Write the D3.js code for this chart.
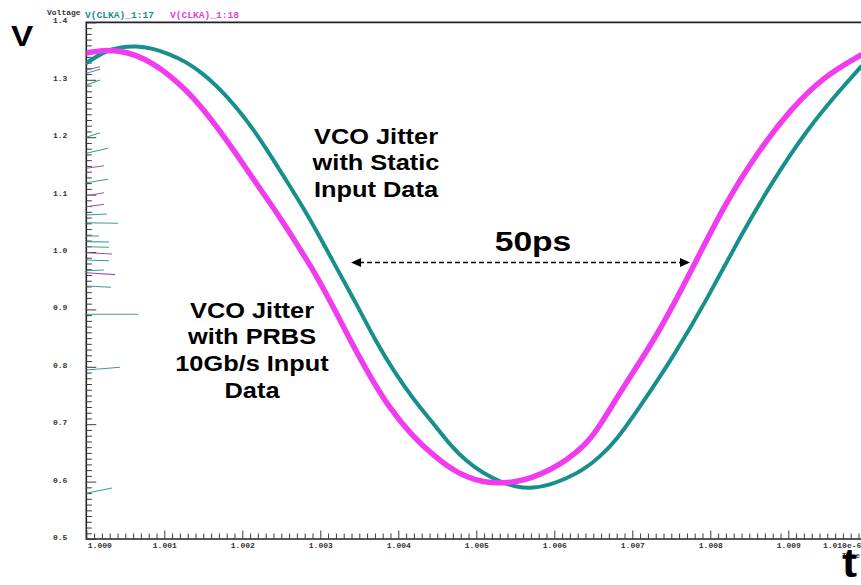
<!DOCTYPE html>
<html><head><meta charset="utf-8">
<script src="https://cdn.jsdelivr.net/npm/d3@7"></script>
<style>
html,body{margin:0;padding:0;background:#fff;overflow:hidden;}
svg{display:block;}
</style></head>
<body><svg id="chart" width="861" height="585"></svg>
<script>
// ---- data ----
const seriesNames = ["V(CLKA)_1:17", "V(CLKA)_1:18"];
const time17 = [1.000000,1.000253,1.000423,1.000637,1.000851,1.001064,1.001278,1.001492,1.001705,1.001919,1.002133,1.002346,1.002560,1.002774,1.002996,1.003201,1.003483,1.003701,1.003958,1.004201,1.004449,1.004663,1.004877,1.005090,1.005304,1.005518,1.005731,1.005945,1.006159,1.006372,1.006586,1.006800,1.007099,1.007526,1.007954,1.008381,1.008808,1.009236,1.009663,1.009932];
const volt17 = [1.3293,1.3507,1.3566,1.3589,1.3549,1.3449,1.3315,1.3113,1.2852,1.2531,1.2155,1.1720,1.1254,1.0789,1.0261,0.9739,0.9047,0.8467,0.7887,0.7422,0.7016,0.6638,0.6347,0.6145,0.5998,0.5901,0.5883,0.5941,0.6057,0.6202,0.6434,0.6725,0.7305,0.8176,0.9164,1.0267,1.1254,1.2125,1.2822,1.3228];
const time18 = [1.000000,1.000210,1.000423,1.000637,1.000851,1.001064,1.001278,1.001492,1.001705,1.001919,1.002133,1.002346,1.002560,1.002826,1.002932,1.003167,1.003381,1.003615,1.003872,1.004201,1.004449,1.004663,1.004877,1.005090,1.005304,1.005518,1.005731,1.005945,1.006159,1.006372,1.006547,1.006885,1.007313,1.007740,1.008167,1.008595,1.009022,1.009449,1.009932];
const volt18 = [1.3467,1.3519,1.3507,1.3432,1.3287,1.3084,1.2822,1.2503,1.2125,1.1720,1.1284,1.0876,1.0441,0.9861,0.9629,0.9047,0.8467,0.7887,0.7305,0.6760,0.6463,0.6232,0.6075,0.5993,0.5970,0.5998,0.6075,0.6202,0.6376,0.6608,0.6882,0.7653,0.8524,0.9629,1.0789,1.1720,1.2474,1.3054,1.3432];
// start-up transient stubs at t = 1.000 (start V, end V, duration, series index; 2 = bluish)
const stubV0 = [1.1998,1.1719,1.1458,1.1207,1.0981,1.0789,1.0645,1.0510,1.0279,1.0180,1.0092,0.9988,0.9861,0.9674,0.9639,0.9408,0.8915,0.7944,0.5796,1.3287,1.3171,1.3113,1.2909];
const stubV1 = [1.2078,1.1807,1.1503,1.1267,1.1033,1.0831,1.0662,1.0500,1.0279,1.0174,1.0082,0.9965,0.9848,0.9686,0.9605,0.9385,0.8915,0.7991,0.5889,1.3432,1.3228,1.3183,1.2997];
const stubDt = [0.000176,0.000278,0.000227,0.000278,0.000227,0.000227,0.000265,0.000406,0.000163,0.000291,0.000291,0.000329,0.000291,0.000227,0.000368,0.000317,0.000663,0.000432,0.000329,0.000176,0.000176,0.000176,0.000176];
const stubSeries = [0,0,1,0,1,1,0,0,0,0,0,1,0,0,1,0,0,0,0,2,1,0,0];
const xMajorTicks = [1.000,1.001,1.002,1.003,1.004,1.005,1.006,1.007,1.008,1.009,1.010];
const xTickLabels = ["1.000","1.001","1.002","1.003","1.004","1.005","1.006","1.007","1.008","1.009","1.010e-6"];
const yMajorTicks = [0.5,0.6,0.7,0.8,0.9,1.0,1.1,1.2,1.3,1.4];
const yTickLabels = ["0.5","0.6","0.7","0.8","0.9","1.0","1.1","1.2","1.3","1.4"];
const arrowT = [1.003394, 1.007740];
const arrowV = 0.9817;
const noteStatic = ["VCO Jitter","with Static","Input Data"];
const notePrbs = ["VCO Jitter","with PRBS","10Gb/s Input","Data"];
const noteSpan = "50ps";

// ---- styles ----
const colTeal = "#178f8c", colMag = "#f03cee", colBlue = "#4a78b4";
const stubCols = ["#3c9c98", "#a050b8", colBlue];
const axisCol = "#222", tickCol = "#3a3a3a";

const svg = d3.select("#chart");
const W = 861, H = 585;
const x = d3.scaleLinear().domain([1.000, 1.010]).range([86.3, 866.3]);
const y = d3.scaleLinear().domain([0.5, 1.4]).range([539, 22.4]);

svg.append("rect").attr("width", W).attr("height", H).attr("fill", "#fff");

svg.append("defs").append("clipPath").attr("id","plotclip")
  .append("rect").attr("x", x(1.0)).attr("y", y(1.4)).attr("width", W - x(1.0)).attr("height", y(0.5) - y(1.4));

// frame lines (top, left, bottom)
svg.append("path")
  .attr("d", `M${W},${y(1.4)}H${x(1.0)}V${y(0.5)}H${W}`)
  .attr("fill", "none").attr("stroke", axisCol).attr("stroke-width", 1.6);

// minor ticks
const xMinor = d3.range(0, 101).map(i => 1.0 + i * 0.0001).filter((d, i) => i % 10 !== 0);
const yMinor = d3.range(0, 91).map(i => 0.5 + i * 0.01).filter((d, i) => i % 10 !== 0);

const gxMinor = svg.append("g").attr("transform", `translate(0,${y(0.5)})`)
  .call(d3.axisBottom(x).tickValues(xMinor).tickSizeInner(-5.5).tickSizeOuter(0).tickFormat(""));
gxMinor.select(".domain").remove();
gxMinor.selectAll(".tick line").attr("stroke", tickCol).attr("stroke-width", 1);

const gyMinor = svg.append("g").attr("transform", `translate(${x(1.0)},0)`)
  .call(d3.axisLeft(y).tickValues(yMinor).tickSizeInner(-5.5).tickSizeOuter(0).tickFormat(""));
gyMinor.select(".domain").remove();
gyMinor.selectAll(".tick line").attr("stroke", tickCol).attr("stroke-width", 1);

// major axes
const gx = svg.append("g").attr("transform", `translate(0,${y(0.5)})`)
  .call(d3.axisBottom(x).tickValues(xMajorTicks).tickSizeInner(-8.5).tickSizeOuter(0).tickPadding(3)
    .tickFormat((d, i) => xTickLabels[i]));
gx.select(".domain").remove();
gx.selectAll(".tick line").attr("stroke", tickCol).attr("stroke-width", 1);
gx.selectAll("text").attr("font-family", "'Liberation Mono', 'DejaVu Sans Mono', monospace")
  .attr("font-weight", "bold").attr("font-size", 8).attr("fill", "#333");
gx.selectAll(".tick").filter(d => d === 1.000).select("text").attr("text-anchor", "start").attr("dx", 1);
gx.selectAll(".tick").filter(d => d === 1.010).select("text").attr("text-anchor", "end").attr("dx", -5.5);

const gy = svg.append("g").attr("transform", `translate(${x(1.0)},0)`)
  .call(d3.axisLeft(y).tickValues(yMajorTicks).tickSizeInner(-10).tickSizeOuter(0).tickPadding(19)
    .tickFormat((d, i) => yTickLabels[i]));
gy.select(".domain").remove();
gy.selectAll(".tick line").attr("stroke", tickCol).attr("stroke-width", 1);
gy.selectAll("text").attr("font-family", "'Liberation Mono', 'DejaVu Sans Mono', monospace")
  .attr("font-weight", "bold").attr("font-size", 8).attr("fill", "#333").attr("dy", "0.05em");

// axis titles
svg.append("text").attr("x", 47).attr("y", 15).text("Voltage")
  .attr("font-family", "'Liberation Mono', monospace").attr("font-weight", "bold").attr("font-size", 8).attr("fill", "#333");
svg.append("text").attr("x", 842).attr("y", 558).text("Time")
  .attr("font-family", "'Liberation Mono', monospace").attr("font-weight", "bold").attr("font-size", 7.5).attr("fill", "#333");

// legend
svg.append("text").attr("x", 85).attr("y", 17.5).text(seriesNames[0])
  .attr("font-family", "'Liberation Mono', monospace").attr("font-weight", "bold").attr("font-size", 9.6).attr("fill", colTeal);
svg.append("text").attr("x", 170).attr("y", 17.5).text(seriesNames[1])
  .attr("font-family", "'Liberation Mono', monospace").attr("font-weight", "bold").attr("font-size", 9.6).attr("fill", "#e040e0");

// plot content
const plot = svg.append("g").attr("clip-path", "url(#plotclip)");

const stubs = stubV0.map((v0, i) => ({v0, v1: stubV1[i], dt: stubDt[i], s: stubSeries[i]}));
plot.selectAll("line.stub").data(stubs).join("line").attr("class", "stub")
  .attr("x1", x(1.0)).attr("y1", d => y(d.v0))
  .attr("x2", d => x(1.0 + d.dt)).attr("y2", d => y(d.v1))
  .attr("stroke", d => stubCols[d.s]).attr("stroke-width", 1.1);

const line = d3.line().x(d => x(d[0])).y(d => y(d[1])).curve(d3.curveBasis);
const d17 = time17.map((t, i) => [t, volt17[i]]);
const d18 = time18.map((t, i) => [t, volt18[i]]);

plot.append("path").datum(d17).attr("d", line).attr("fill", "none")
  .attr("stroke", colTeal).attr("stroke-width", 4).attr("stroke-linecap", "round");
plot.append("path").datum(d18).attr("d", line).attr("fill", "none")
  .attr("stroke", colMag).attr("stroke-width", 5.5).attr("stroke-linecap", "round");

// annotations
const bold = "'Liberation Sans', Arial, sans-serif";
function block(lines, cx, y0, size, lh) {
  lines.forEach((s, i) => {
    svg.append("text").attr("transform", `translate(${cx},${y0 + i * lh}) scale(1.18,1)`)
      .attr("text-anchor", "middle").attr("font-family", bold).attr("font-weight", "bold")
      .attr("font-size", size).attr("fill", "#000").text(s);
  });
}
block(noteStatic, 376, 143.5, 21.5, 26.7);
block(notePrbs, 252, 317.7, 21.5, 26.7);
block([noteSpan], 533, 250.5, 28.5, 0);

// arrow
const ay = y(arrowV);
const ax0 = x(arrowT[0]), ax1 = x(arrowT[1]);
svg.append("line").attr("x1", ax0 + 8).attr("x2", ax1 - 8).attr("y1", ay).attr("y2", ay)
  .attr("stroke", "#000").attr("stroke-width", 1.5).attr("stroke-dasharray", "5,3");
svg.append("path").attr("d", `M${ax0},${ay}l10,-4.5v9z`).attr("fill", "#000");
svg.append("path").attr("d", `M${ax1},${ay}l-10,-4.5v9z`).attr("fill", "#000");

// big axis letters
svg.append("text").attr("transform", "translate(11,45.5) scale(1.15,1)").text("V")
  .attr("font-family", bold).attr("font-weight", "bold").attr("font-size", 29).attr("fill", "#000");
svg.append("text").attr("transform", "translate(842,577) scale(1.1,1)").text("t")
  .attr("font-family", bold).attr("font-weight", "bold").attr("font-size", 41).attr("fill", "#000");
</script></body></html>
